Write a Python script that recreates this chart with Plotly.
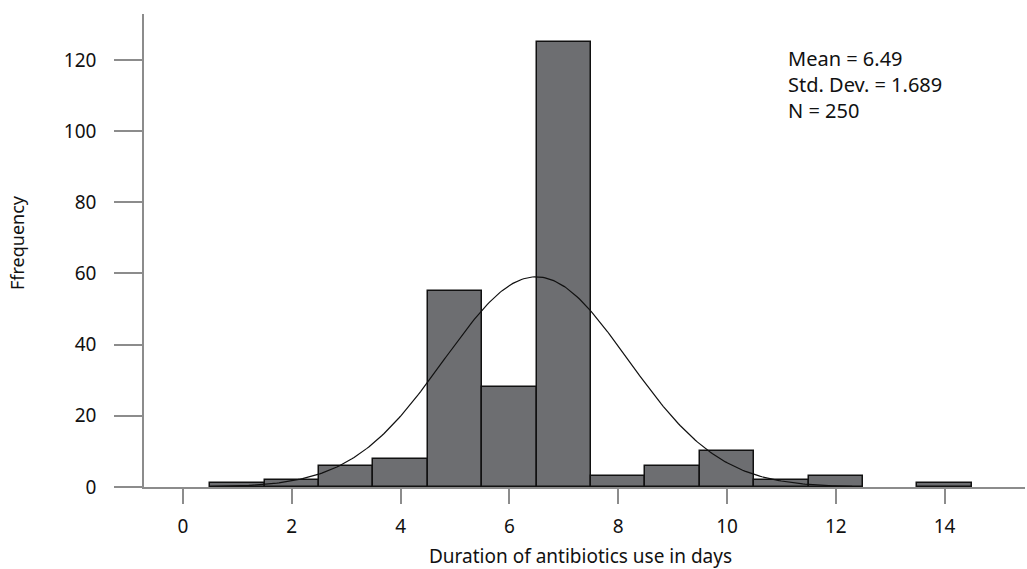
import numpy as np
import plotly.graph_objects as go

# Data
bin_centers = [1, 2, 3, 4, 5, 6, 7, 8, 9, 10, 11, 12, 13, 14]
counts = [1, 2, 6, 8, 55, 28, 125, 3, 6, 10, 2, 3, 0, 1]
x_ticks = [0, 2, 4, 6, 8, 10, 12, 14]
y_ticks = [0, 20, 40, 60, 80, 100, 120]
MEAN = 6.49
SD = 1.689
N = 250
BIN_WIDTH = 1.0
curve_start, curve_end = 0.5, 12.3

# only draw non-empty bins
bx = [c for c, n in zip(bin_centers, counts) if n > 0]
by = [n for n in counts if n > 0]

xs = np.linspace(curve_start, curve_end, 300)
ys = N * BIN_WIDTH / (SD * np.sqrt(2 * np.pi)) * np.exp(-0.5 * ((xs - MEAN) / SD) ** 2)

FONT = "Noto Sans"
AXIS_COLOR = "#8c8c8c"
TICK_FS = 19

fig = go.Figure()
fig.add_trace(go.Bar(
    x=bx, y=by, width=[BIN_WIDTH] * len(bx),
    marker=dict(color="#6d6e71", line=dict(color="#111111", width=1.5)),
    showlegend=False, hoverinfo="x+y",
))
fig.add_trace(go.Scatter(
    x=xs, y=ys, mode="lines", line=dict(color="#111111", width=1.2),
    showlegend=False, hoverinfo="skip",
))

PW = 1027 - 144 - 2
PH = 487 - 14

fig.update_layout(
    width=1027, height=569,
    margin=dict(l=144, r=2, t=14, b=82),
    paper_bgcolor="white", plot_bgcolor="white",
    font=dict(family=FONT, size=TICK_FS, color="#111111"),
    bargap=0,
    xaxis=dict(
        range=[-0.717, (1025 - 183) / 54.4], tickvals=x_ticks,
        showline=True, linecolor=AXIS_COLOR, linewidth=1.5,
        ticks="outside", ticklen=15, tickwidth=1.5, tickcolor=AXIS_COLOR,
        ticklabelstandoff=6,
        showgrid=False, zeroline=False,
        tickfont=dict(family=FONT, size=TICK_FS, color="#111111"),
    ),
    yaxis=dict(
        range=[0, 132.9], tickvals=y_ticks,
        showline=True, linecolor=AXIS_COLOR, linewidth=1.5,
        ticks="outside", ticklen=28, tickwidth=1.5, tickcolor=AXIS_COLOR,
        ticklabelstandoff=14,
        showgrid=False, zeroline=False,
        tickfont=dict(family=FONT, size=TICK_FS, color="#111111"),
    ),
    annotations=[
        dict(text="Duration of antibiotics use in days", xref="paper", yref="paper",
             x=(580 - 144) / PW, y=-(556 - 487) / PH,
             xanchor="center", yanchor="middle", showarrow=False,
             font=dict(family=FONT, size=19, color="#111111")),
        dict(text="Ffrequency", xref="paper", yref="paper",
             x=-(144 - 17) / PW, y=(487 - 243) / PH,
             xanchor="center", yanchor="middle", showarrow=False, textangle=-90,
             font=dict(family=FONT, size=18, color="#111111")),
        dict(text=f"Mean = {MEAN}<br>Std. Dev. = {SD}<br>N = {N}",
             xref="paper", yref="paper",
             x=(786 - 144) / PW, y=(487 - 43) / PH,
             xanchor="left", yanchor="top", align="left", showarrow=False,
             font=dict(family=FONT, size=20, color="#111111")),
    ],
)

fig.write_html("out.html")
